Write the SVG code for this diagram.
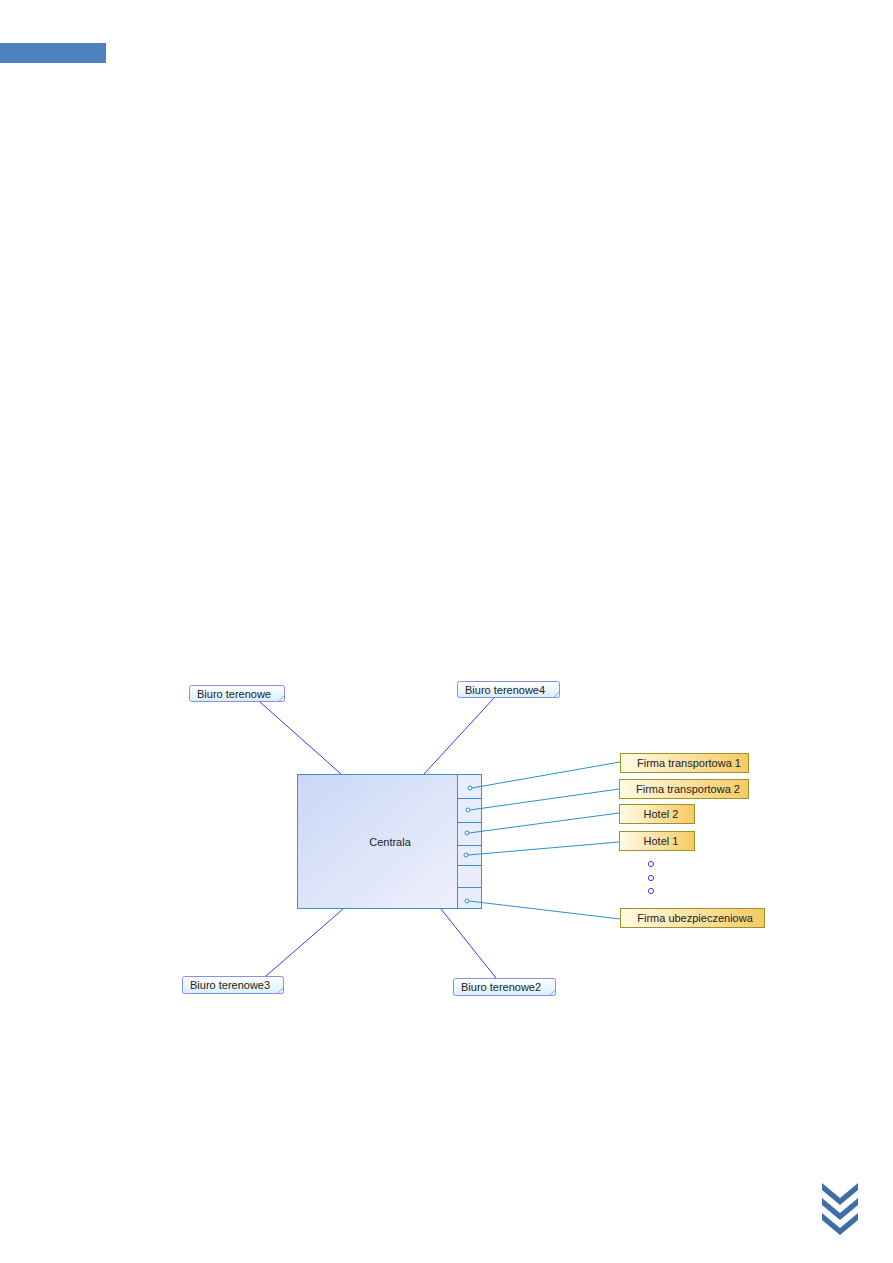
<svg xmlns="http://www.w3.org/2000/svg" width="893" height="1263" viewBox="0 0 893 1263">
<defs>
<linearGradient id="gC" x1="0" y1="0" x2="1" y2="1"><stop offset="0" stop-color="#c9d8f6"/><stop offset="1" stop-color="#eff0fc"/></linearGradient>
<linearGradient id="gB" x1="0" y1="0" x2="0" y2="1"><stop offset="0" stop-color="#ffffff"/><stop offset="1" stop-color="#d6f0fb"/></linearGradient>
<linearGradient id="gY" x1="0" y1="0" x2="1" y2="0"><stop offset="0" stop-color="#fffbe6"/><stop offset="1" stop-color="#f6ca63"/></linearGradient>
<style>
.t{font-family:"Liberation Sans",Arial,sans-serif;font-size:11px;fill:#222}
.bo{fill:url(#gB);stroke:#8a8cf0;stroke-width:1}
.fo{fill:#fff;stroke:#8a8cf0;stroke-width:0.8}
.ye{fill:url(#gY);stroke:#9c9526;stroke-width:1}
.cl{stroke:#2a8fd0;stroke-width:1;fill:none}
.bl{stroke:#3c3cf0;stroke-width:1;fill:none}
.port{fill:#fff;stroke:#2a8fd0;stroke-width:1}
.dot{fill:#fff;stroke:#3c3cf0;stroke-width:1}
</style>
</defs>
<rect x="0" y="43" width="106" height="20" fill="#4f81bd"/>
<g id="chevrons" fill="#3d6ea8">
<polygon points="822,1183 840,1198 858,1183 858,1190 840,1205 822,1190"/>
<polygon points="822,1198 840,1213 858,1198 858,1205 840,1220 822,1205"/>
<polygon points="822,1213 840,1228 858,1213 858,1220 840,1235 822,1220"/>
</g>
<g id="centrala">
<rect x="297.500" y="774.500" width="160" height="134" fill="url(#gC)" stroke="#3a8fd0"/>
<rect x="457.500" y="774.500" width="24" height="134" fill="#e9ecfb" stroke="#3a8fd0"/>
<path d="M457.500 798.500H481.500M457.500 822.500H481.500M457.500 845.500H481.500M457.500 865.500H481.500M457.500 887.500H481.500" stroke="#3a8fd0" fill="none"/>
<text class="t" x="390" y="846" text-anchor="middle">Centrala</text>
</g>
<g id="connectors">
<line class="bl" x1="260" y1="702" x2="341" y2="774"/>
<line class="bl" x1="494" y1="698" x2="424" y2="774"/>
<line class="bl" x1="343" y1="909" x2="266" y2="976"/>
<line class="bl" x1="441" y1="909" x2="496" y2="978"/>
<line class="cl" x1="472" y1="788" x2="620" y2="762"/>
<line class="cl" x1="470" y1="810" x2="619" y2="789"/>
<line class="cl" x1="469" y1="833" x2="619" y2="813"/>
<line class="cl" x1="468" y1="855" x2="619" y2="842"/>
<line class="cl" x1="469" y1="901" x2="620" y2="919"/>
<circle class="port" cx="470" cy="788" r="2"/>
<circle class="port" cx="468" cy="810" r="2"/>
<circle class="port" cx="467" cy="833" r="2"/>
<circle class="port" cx="466" cy="855" r="2"/>
<circle class="port" cx="467" cy="901" r="2"/>
</g>
<g id="biuro1">
<rect class="bo" x="189.500" y="685.500" width="95" height="16" rx="2"/>
<path class="fo" d="M284.500 695.500L278.500 701.500"/>
<text class="t" x="197" y="698">Biuro terenowe</text>
</g>
<g id="biuro4">
<rect class="bo" x="457.500" y="681.500" width="102" height="16" rx="2"/>
<path class="fo" d="M559.500 691.500L553.500 697.500"/>
<text class="t" x="465" y="694">Biuro terenowe4</text>
</g>
<g id="biuro3">
<rect class="bo" x="182.500" y="976.500" width="101" height="17" rx="2"/>
<path class="fo" d="M283.500 987.500L277.500 993.500"/>
<text class="t" x="190" y="989">Biuro terenowe3</text>
</g>
<g id="biuro2">
<rect class="bo" x="453.500" y="978.500" width="102" height="17" rx="2"/>
<path class="fo" d="M555.500 989.500L549.500 995.500"/>
<text class="t" x="461" y="991">Biuro terenowe2</text>
</g>
<g id="ft1">
<rect class="ye" x="620.500" y="753.500" width="128" height="19"/>
<text class="t" x="689" y="767" text-anchor="middle">Firma transportowa 1</text>
</g>
<g id="ft2">
<rect class="ye" x="619.500" y="779.500" width="129" height="19"/>
<text class="t" x="688" y="793" text-anchor="middle">Firma transportowa 2</text>
</g>
<g id="hotel2">
<rect class="ye" x="619.500" y="804.500" width="75" height="19"/>
<text class="t" x="661" y="818" text-anchor="middle">Hotel 2</text>
</g>
<g id="hotel1">
<rect class="ye" x="619.500" y="831.500" width="75" height="19"/>
<text class="t" x="661" y="845" text-anchor="middle">Hotel 1</text>
</g>
<g id="dots">
<circle class="dot" cx="651" cy="864" r="2.6"/>
<circle class="dot" cx="651" cy="878" r="2.6"/>
<circle class="dot" cx="651" cy="891" r="2.6"/>
</g>
<g id="fu">
<rect class="ye" x="620.500" y="908.500" width="144" height="19"/>
<text class="t" x="695" y="922" text-anchor="middle">Firma ubezpieczeniowa</text>
</g>
</svg>
